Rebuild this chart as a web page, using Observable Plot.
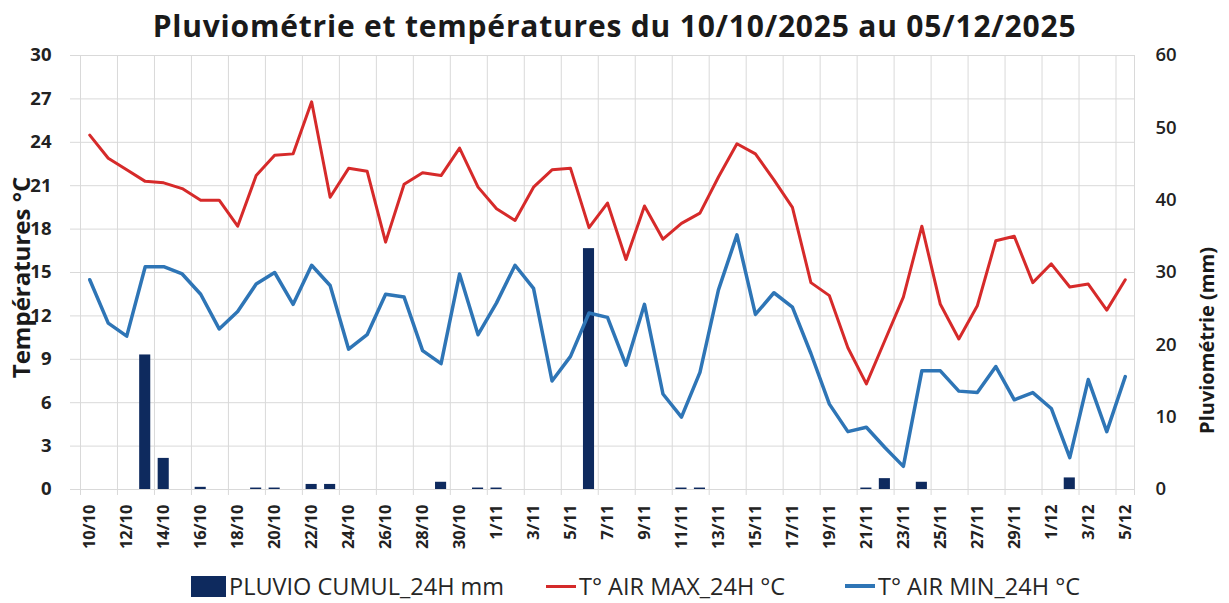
<!DOCTYPE html>
<html>
<head>
<meta charset="utf-8">
<script src="https://cdn.jsdelivr.net/npm/d3@7"></script>
<script src="https://cdn.jsdelivr.net/npm/@observablehq/plot@0.6"></script>
<style>
  body { margin:0; background:#fff; width:1229px; height:603px; overflow:hidden; position:relative; font-family:"Open Sans", sans-serif; }
  #title { position:absolute; left:0; top:0; width:1229px; text-align:center; font-weight:700; font-size:30px; letter-spacing:0.8px; line-height:52px; color:#1a1a1a; white-space:nowrap; }
  #chart { position:absolute; left:0; top:48px; }
  .leg { position:absolute; top:572px; height:28px; line-height:28px; display:flex; align-items:center; font-size:23.5px; color:#262626; white-space:nowrap; }
  .sw { display:inline-block; margin-right:3px; }
</style>
</head>
<body>
<div id="title">Pluviométrie et températures du 10/10/2025 au 05/12/2025</div>
<div id="chart"></div>
<div class="leg" style="left:191px"><span class="sw" style="width:35px;height:21px;background:#0e2a5e"></span>PLUVIO CUMUL_24H mm</div>
<div class="leg" style="left:546px"><span class="sw" style="width:30px;height:3px;background:#d42a2a"></span>T° AIR MAX_24H °C</div>
<div class="leg" style="left:845px"><span class="sw" style="width:30px;height:4px;background:#2e75b6"></span>T° AIR MIN_24H °C</div>
<script>
const labels = [
  "10/10","11/10","12/10","13/10","14/10","15/10","16/10","17/10","18/10","19/10","20/10",
  "21/10","22/10","23/10","24/10","25/10","26/10","27/10","28/10","29/10","30/10","31/10",
  "1/11","2/11","3/11","4/11","5/11","6/11","7/11","8/11","9/11","10/11","11/11","12/11",
  "13/11","14/11","15/11","16/11","17/11","18/11","19/11","20/11","21/11","22/11","23/11",
  "24/11","25/11","26/11","27/11","28/11","29/11","30/11","1/12","2/12","3/12","4/12","5/12"
];
const tmax = [
  24.5,22.9,22.1,21.3,21.2,20.8,20.0,20.0,18.2,21.7,23.1,
  23.2,26.8,20.2,22.2,22.0,17.1,21.1,21.9,21.7,23.6,20.9,
  19.4,18.6,20.9,22.1,22.2,18.1,19.8,15.9,19.6,17.3,18.4,19.1,
  21.6,23.9,23.2,21.4,19.5,14.3,13.4,9.8,7.3,10.3,13.3,
  18.2,12.8,10.4,12.7,17.2,17.5,14.3,15.6,14.0,14.2,12.4,14.5
];
const tmin = [
  14.5,11.5,10.6,15.4,15.4,14.9,13.5,11.1,12.3,14.2,15.0,
  12.8,15.5,14.1,9.7,10.7,13.5,13.3,9.6,8.7,14.9,10.7,
  12.9,15.5,13.9,7.5,9.2,12.2,11.9,8.6,12.8,6.6,5.0,8.1,
  13.8,17.6,12.1,13.6,12.6,9.4,5.9,4.0,4.3,2.9,1.6,
  8.2,8.2,6.8,6.7,8.5,6.2,6.7,5.6,2.2,7.6,4.0,7.8
];
const rain = [
  0,0,0,18.6,4.3,0,0.3,0,0,0.2,0.2,
  0,0.7,0.7,0,0,0,0,0,1.0,0,0.2,
  0.2,0,0,0,0,33.3,0,0,0,0,0.2,0.2,
  0,0,0,0,0,0,0,0,0.2,1.5,0,
  1.0,0,0,0,0,0,0,0,1.6,0,0,0
];
const tempTicks = [0,3,6,9,12,15,18,21,24,27,30];
const rainTicks = [0,10,20,30,40,50,60];

const C_RAIN = "#0e2a5e", C_MAX = "#d62a2a", C_MIN = "#2e75b6", C_GRID = "#d9d9d9";
const n = labels.length;
const data = labels.map((d, i) => ({i, label: d, tmax: tmax[i], tmin: tmin[i], rain: rain[i]}));
const rainToTemp = 30 / 60;

const vGrid = d3.range(-0.5, n, 2).concat([n - 0.5]);

const chart = Plot.plot({
  width: 1229, height: 520,
  marginTop: 7, marginBottom: 79, marginLeft: 80, marginRight: 95,
  style: {fontFamily: "'Open Sans', sans-serif", fontSize: "17px", color: "#222", background: "white", overflow: "visible"},
  x: {type: "linear", domain: [-0.5, n - 0.5], axis: null},
  y: {domain: [0, 30], axis: null},
  marks: [
    Plot.ruleY(tempTicks, {stroke: C_GRID, strokeWidth: 1, insetLeft: -10}),
    Plot.ruleX(vGrid, {stroke: C_GRID, strokeWidth: 1, insetBottom: -6}),
    Plot.rectY(data, {x1: d => d.i - 0.3, x2: d => d.i + 0.3, y1: 0, y2: d => d.rain * rainToTemp, fill: C_RAIN}),
    Plot.line(data, {x: "i", y: "tmax", stroke: C_MAX, strokeWidth: 3}),
    Plot.line(data, {x: "i", y: "tmin", stroke: C_MIN, strokeWidth: 3.5}),
    Plot.axisY({anchor: "left", ticks: tempTicks, tickSize: 0, tickPadding: 29, fontWeight: "bold", fontSize: 18.5, label: null}),
    Plot.axisY({anchor: "right", ticks: rainTicks.map(t => t * rainToTemp), tickFormat: t => String(Math.round(t / rainToTemp)), tickSize: 0, tickPadding: 21, fontWeight: 600, fontSize: 18.5, label: null}),
    Plot.axisX({anchor: "bottom", ticks: d3.range(0, n, 2), tickFormat: i => labels[i], tickRotate: -90, tickSize: 0, tickPadding: 15, fontWeight: "bold", fontSize: 16.5, label: null}),
    Plot.text(["Températures °C"], {text: d => d, frameAnchor: "left", textAnchor: "middle", dx: -58, dy: 5, rotate: -90, fontWeight: "bold", fontSize: 24, fill: "#1a1a1a"}),
    Plot.text(["Pluviométrie (mm)"], {text: d => d, frameAnchor: "right", textAnchor: "middle", dx: 73, dy: 68, rotate: -90, fontWeight: "bold", fontSize: 20, fill: "#1a1a1a"})
  ]
});
document.getElementById("chart").appendChild(chart);
</script>
</body>
</html>
